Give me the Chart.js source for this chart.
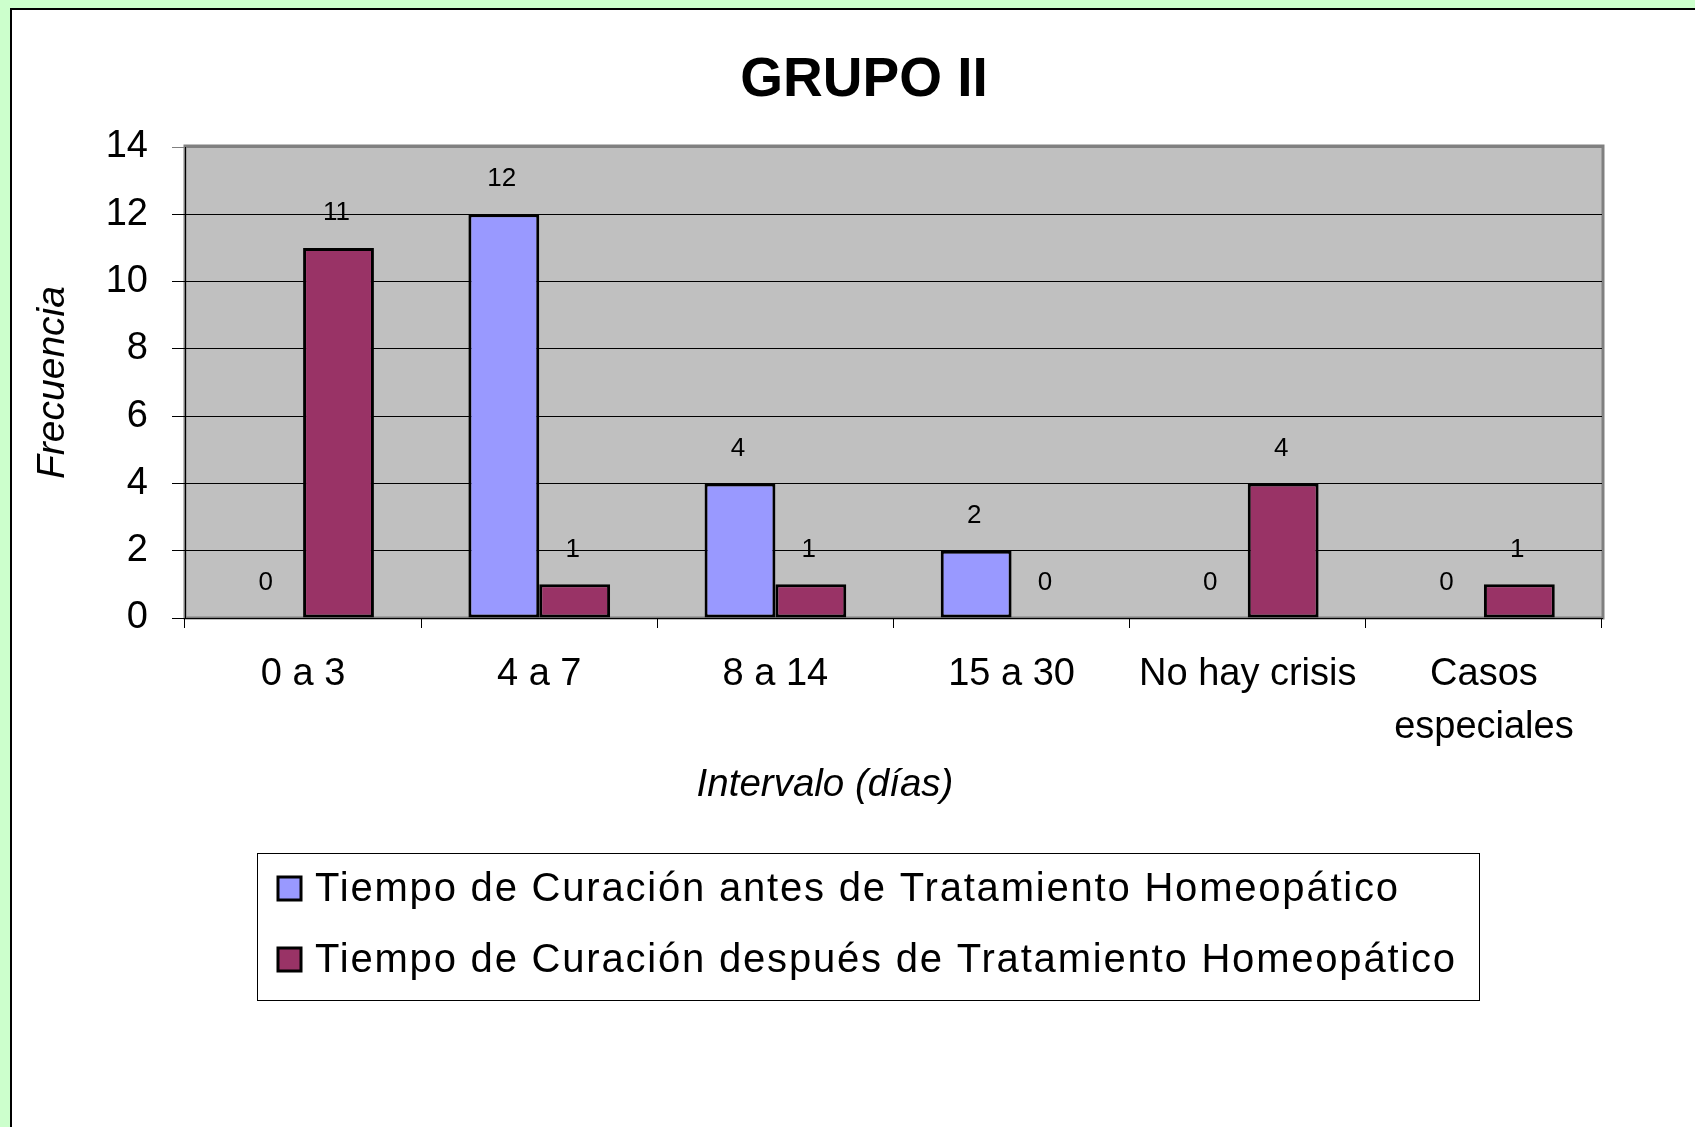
<!DOCTYPE html>
<html lang="es">
<head>
  <meta charset="UTF-8" />
  <title>GRUPO II</title>
  <script src="https://cdn.jsdelivr.net/npm/chart.js"></script>
  <style>
    body {
      margin: 0;
      background-color: #ccffcc;
      font-family: "Liberation Sans", Arial, sans-serif;
    }
    #panel {
      position: absolute;
      left: 10px;
      top: 8px;
      right: 0;
      bottom: 0;
      background: white;
      border-left: 2px solid black;
      border-top: 2px solid black;
    }
    #chart {
      position: absolute;
      left: 0;
      top: 0;
    }
  </style>
</head>
<body>
  <div id="panel"></div>
  <canvas id="chart" width="1695" height="1127"></canvas>

  <script>
    const chartTitle = "GRUPO II";
    const categories = ["0 a 3", "4 a 7", "8 a 14", "15 a 30", "No hay crisis", ["Casos", "especiales"]];
    const seriesNames = [
      "Tiempo de Curación antes de Tratamiento Homeopático",
      "Tiempo de Curación después de Tratamiento Homeopático"
    ];
    const antes = [0, 12, 4, 2, 0, 0];
    const despues = [11, 1, 1, 0, 4, 1];
    const yTitle = "Frecuencia";
    const xTitle = "Intervalo (días)";

    const FONT = "'Liberation Sans', Arial, sans-serif";

    // gray plot background with frame
    const plotFrame = {
      id: "plotFrame",
      beforeDraw(chart) {
        const a = chart.chartArea;
        const c = chart.ctx;
        c.save();
        c.fillStyle = "#c0c0c0";
        c.fillRect(a.left, a.top, a.right - a.left, a.bottom - a.top);
        c.strokeStyle = "#808080";
        c.lineWidth = 3;
        c.strokeRect(a.left, a.top - 1, a.right - a.left + 1, a.bottom - a.top + 1);
        c.restore();
      }
    };

    // numbers over the bars
    const valueLabels = {
      id: "valueLabels",
      afterDatasetsDraw(chart) {
        const c = chart.ctx;
        c.save();
        c.font = "26px " + FONT;
        c.fillStyle = "#000";
        c.textAlign = "center";
        c.textBaseline = "middle";
        chart.data.datasets.forEach((ds, i) => {
          chart.getDatasetMeta(i).data.forEach((bar, j) => {
            c.fillText(String(ds.data[j]), bar.x - 2, bar.y - 35);
          });
        });
        c.restore();
      }
    };

    const titleAndLegend = {
      id: "titleAndLegend",
      afterDraw(chart) {
        const c = chart.ctx;
        c.save();
        c.fillStyle = "#000";
        c.font = "bold 55px " + FONT;
        c.textAlign = "center";
        c.textBaseline = "middle";
        c.fillText(chartTitle, 864, 81);

        // x axis title, sits left of the plot centre in the original
        c.font = "italic 38.5px " + FONT;
        c.fillText(xTitle, 825, 785);

        // legend box
        c.strokeStyle = "#000";
        c.lineWidth = 1;
        c.strokeRect(257.5, 853.5, 1222, 147);
        c.font = "40px " + FONT;
        c.letterSpacing = "1.8px";
        c.textAlign = "left";
        chart.data.datasets.forEach((ds, i) => {
          const y = 889 + i * 71;
          c.fillStyle = ds.backgroundColor;
          c.fillRect(278, y - 12, 23, 23);
          c.lineWidth = 3;
          c.strokeRect(278, y - 12, 23, 23);
          c.fillStyle = "#000";
          c.fillText(ds.label, 315, y + 1);
        });
        c.restore();
      }
    };

    new Chart(document.getElementById("chart"), {
      type: "bar",
      data: {
        labels: categories,
        datasets: [
          {
            label: seriesNames[0],
            data: antes,
            backgroundColor: "#9999ff",
            borderColor: "#000",
            borderWidth: 3,
            borderSkipped: false
          },
          {
            label: seriesNames[1],
            data: despues,
            backgroundColor: "#993366",
            borderColor: "#000",
            borderWidth: 3,
            borderSkipped: false
          }
        ]
      },
      options: {
        responsive: false,
        animation: false,
        categoryPercentage: 0.6,
        barPercentage: 1.0,
        layout: {
          padding: { left: 26, top: 147, right: 93, bottom: 317 }
        },
        plugins: {
          legend: { display: false },
          title: { display: false },
          tooltip: { enabled: false }
        },
        scales: {
          x: {
            grid: {
              drawOnChartArea: false,
              drawTicks: true,
              tickLength: 10,
              color: "#000"
            },
            border: { color: "#000", width: 1 },
            ticks: {
              color: "#000",
              padding: 20,
              maxRotation: 0,
              autoSkip: false,
              font: { family: FONT, size: 38, lineHeight: 1.4 }
            },
            afterFit(scale) { scale.height = 192; }
          },
          y: {
            min: 0,
            max: 14,
            grid: {
              color: ctx => (ctx.tick && ctx.tick.value === 14 ? "#808080" : "#000"),
              lineWidth: 1,
              drawTicks: true,
              tickLength: 13
            },
            border: { color: "#000", width: 1 },
            ticks: {
              stepSize: 2,
              color: "#000",
              padding: 24,
              font: { family: FONT, size: 38 }
            },
            title: {
              display: true,
              text: yTitle,
              color: "#000",
              font: { family: FONT, size: 39, style: "italic" }
            },
            afterFit(scale) { scale.width = 159; }
          }
        }
      },
      plugins: [plotFrame, valueLabels, titleAndLegend]
    });
  </script>
</body>
</html>
